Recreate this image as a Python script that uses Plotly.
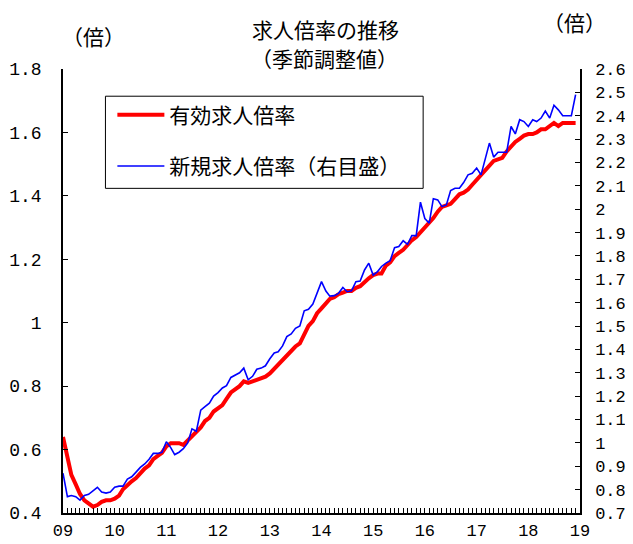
import plotly.graph_objects as go
import pandas as pd

months = pd.date_range("2009-01-01", periods=120, freq="MS")

active_ratio = [
    0.64, 0.58, 0.52, 0.49, 0.46, 0.44, 0.43, 0.42, 0.425, 0.435, 0.44, 0.44,
    0.445, 0.455, 0.475, 0.49, 0.50, 0.51, 0.525, 0.54, 0.55, 0.57, 0.58, 0.59,
    0.61, 0.62, 0.62, 0.62, 0.615, 0.63, 0.64, 0.655, 0.67, 0.69, 0.70, 0.72,
    0.73, 0.74, 0.76, 0.78, 0.79, 0.80, 0.815, 0.81, 0.815, 0.82, 0.825, 0.83,
    0.84, 0.855, 0.87, 0.885, 0.895, 0.91, 0.925, 0.935, 0.965, 0.99, 1.005, 1.03,
    1.045, 1.06, 1.075, 1.08, 1.09, 1.095, 1.10, 1.10, 1.11, 1.115, 1.13, 1.14,
    1.15, 1.155, 1.155, 1.18, 1.19, 1.21, 1.22, 1.23, 1.245, 1.26, 1.27, 1.285,
    1.30, 1.315, 1.33, 1.35, 1.365, 1.37, 1.375, 1.39, 1.405, 1.41, 1.42, 1.435,
    1.45, 1.465, 1.48, 1.495, 1.51, 1.515, 1.52, 1.54, 1.555, 1.57, 1.58, 1.59,
    1.595, 1.595, 1.60, 1.61, 1.61, 1.62, 1.63, 1.62, 1.63, 1.63, 1.63, 1.63,
]

new_ratio = [
    0.87, 0.77, 0.775, 0.77, 0.755, 0.775, 0.78, 0.795, 0.81, 0.79, 0.785, 0.79,
    0.81, 0.815, 0.815, 0.845, 0.855, 0.875, 0.895, 0.91, 0.93, 0.955, 0.955, 0.96,
    1.005, 0.98, 0.95, 0.96, 0.975, 1.0, 1.06, 1.05, 1.14, 1.155, 1.17, 1.20,
    1.215, 1.235, 1.245, 1.28, 1.29, 1.30, 1.32, 1.27, 1.285, 1.315, 1.32, 1.33,
    1.36, 1.385, 1.39, 1.415, 1.455, 1.466, 1.49, 1.50, 1.565, 1.572, 1.594, 1.64,
    1.69, 1.65, 1.628, 1.63, 1.64, 1.665, 1.647, 1.651, 1.69, 1.693, 1.74, 1.769,
    1.718, 1.733, 1.755, 1.769, 1.78, 1.835, 1.84, 1.865, 1.85, 1.887, 1.887, 2.03,
    1.96, 1.94, 2.045, 2.04, 2.011, 2.018, 2.08, 2.09, 2.09, 2.114, 2.147, 2.154,
    2.176, 2.147, 2.211, 2.283, 2.223, 2.244, 2.244, 2.244, 2.354, 2.322, 2.383, 2.375,
    2.354, 2.383, 2.375, 2.39, 2.42, 2.39, 2.445, 2.425, 2.40, 2.40, 2.40, 2.49,
]

year_ticks = pd.date_range("2009-01-01", periods=11, freq="YS")
year_labels = ["09", "10", "11", "12", "13", "14", "15", "16", "17", "18", "19"]

left_ticks = [0.4, 0.6, 0.8, 1.0, 1.2, 1.4, 1.6, 1.8]
left_labels = ["0.4", "0.6", "0.8", "1", "1.2", "1.4", "1.6", "1.8"]

right_ticks = [0.7, 0.8, 0.9, 1.0, 1.1, 1.2, 1.3, 1.4, 1.5, 1.6, 1.7, 1.8, 1.9,
               2.0, 2.1, 2.2, 2.3, 2.4, 2.5, 2.6]
right_labels = ["0.7", "0.8", "0.9", "1", "1.1", "1.2", "1.3", "1.4", "1.5", "1.6",
                "1.7", "1.8", "1.9", "2", "2.1", "2.2", "2.3", "2.4", "2.5", "2.6"]

CJK = "Noto Sans CJK JP, sans-serif"
NUM = "Liberation Mono, DejaVu Sans Mono, monospace"

fig = go.Figure()
fig.add_trace(go.Scatter(
    x=months, y=active_ratio, mode="lines", name="有効求人倍率",
    line=dict(color="#FF0000", width=4), yaxis="y", legendgroup="a",
))
fig.add_trace(go.Scatter(
    x=months, y=new_ratio, mode="lines", name="新規求人倍率（右目盛）",
    line=dict(color="#0000FF", width=1.6), yaxis="y2", legendgroup="b",
))

axis_common = dict(
    showline=True, linecolor="black", linewidth=1.5, showgrid=False,
    zeroline=False, ticks="inside", ticklen=5, tickwidth=1.2, tickcolor="black",
    automargin=False,
)

# page body has an 8px default margin, so the figure is sized to fit the window
fig.update_layout(
    width=625, height=536,
    margin=dict(l=54.5, r=53, t=61.3, b=31.3),
    paper_bgcolor="white", plot_bgcolor="white",
    font=dict(family=CJK, color="black"),
    xaxis=dict(
        type="date", range=[year_ticks[0], year_ticks[-1]],
        tickmode="array", tickvals=list(year_ticks), ticktext=year_labels,
        minor=dict(dtick="M1", ticks="inside", ticklen=5, tickwidth=1, tickcolor="black"),
        ticklabelstandoff=1,
        tickfont=dict(family=NUM, size=17, color="black"),
        **axis_common,
    ),
    yaxis=dict(
        range=[0.4, 1.8], tickmode="array", tickvals=left_ticks, ticktext=left_labels,
        ticklabelstandoff=16,
        tickfont=dict(family=NUM, size=18, color="black"),
        **axis_common,
    ),
    yaxis2=dict(
        range=[0.7, 2.6], overlaying="y", side="right", tickmode="array",
        tickvals=right_ticks, ticktext=right_labels, ticklabelstandoff=10,
        tickfont=dict(family=NUM, size=17, color="black"),
        **axis_common,
    ),
    legend=dict(
        x=0.0955, y=0.9424, xanchor="left", yanchor="top",
        bgcolor="rgba(0,0,0,0)", borderwidth=0,
        font=dict(family=CJK, size=21, color="black"),
        tracegroupgap=21, itemwidth=47,
    ),
    showlegend=True,
)

# legend frame
fig.add_shape(
    type="rect", xref="paper", yref="paper",
    x0=0.0821, x1=0.6966, y0=0.7312, y1=0.9387,
    line=dict(color="black", width=1), fillcolor="white", layer="below",
)

annotations = [
    dict(text="求人倍率の推移", x=0.507, y=1.091),
    dict(text="（季節調整値）", x=0.505, y=1.0255),
    dict(text="（倍）", x=0.0597, y=1.075),
    dict(text="（倍）", x=0.99, y=1.106),
]
for a in annotations:
    fig.add_annotation(
        text=a["text"], x=a["x"], y=a["y"], xref="paper", yref="paper",
        xanchor="center", yanchor="middle", showarrow=False,
        font=dict(family=CJK, size=21, color="black"),
    )

fig.write_html("out.html")
